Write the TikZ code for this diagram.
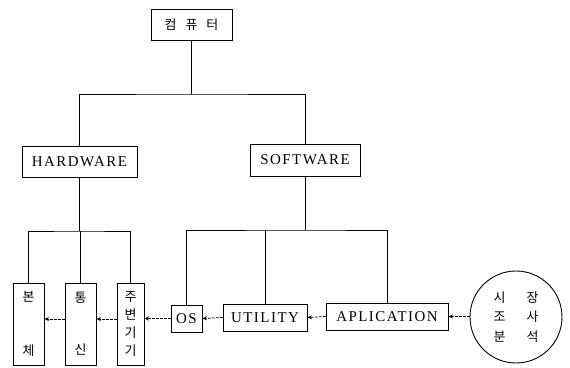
\documentclass[tikz,border=0pt]{standalone}
\usepackage{fontspec}
\setmainfont{Liberation Serif}[LetterSpace=10]
\newfontfamily\kr{Noto Sans CJK KR}
\usetikzlibrary{arrows.meta}
\begin{document}
\begin{tikzpicture}[x=1bp,y=-1bp,
  box/.style={draw, line width=0.9bp, inner sep=0pt, font=\fontsize{15}{18}\selectfont},
  vbox/.style={draw, line width=0.9bp, inner sep=0pt, align=center, minimum height=82bp},
  conn/.style={line width=0.9bp},
  arr/.style={line width=0.8bp, dash pattern=on 2.5bp off 1.5bp, -{Stealth[length=4.5bp,width=4bp]}}]
\useasboundingbox (0,0) rectangle (570,367);
% top level
\node[box, minimum width=81bp, minimum height=31bp] (top) at (191.5,24.5)
  {\kr\fontsize{13}{15}\selectfont 컴\hspace{9bp}퓨\hspace{9bp}터};
\node[box, minimum width=115bp, minimum height=31bp] (hw) at (79.5,162) {HARDWARE};
\node[box, minimum width=110bp, minimum height=32bp] (sw) at (305,160) {SOFTWARE};
% hardware children
\node[vbox, minimum width=31bp, font=\kr\fontsize{13}{54}\selectfont] (b1) at (28.5,324) {본\\체};
\node[vbox, minimum width=31bp, font=\kr\fontsize{13}{52}\selectfont] (b2) at (80.5,324) {통\\신};
\node[vbox, minimum width=27bp, font=\kr\fontsize{13}{18}\selectfont] (b3) at (130.5,324) {주\\변\\기\\기};
% software children
\node[box, minimum width=31bp, minimum height=27bp] (os) at (186.5,318.5) {OS};
\node[box, minimum width=84bp, minimum height=27bp] (ut) at (265,317.5) {UTILITY};
\node[box, minimum width=122bp, minimum height=27bp] (ap) at (387,316.5) {APLICATION};
\node[draw, circle, line width=0.9bp, minimum size=92bp, inner sep=0pt, align=center,
  font=\kr\fontsize{13}{19.5}\selectfont] (ms) at (516,317)
  {시\hspace{21bp}장\\조\hspace{21bp}사\\분\hspace{21bp}석};
% tree connectors
\draw[conn] (top.south) -- (top.south |- 0,94);
\draw[conn] (hw.north) |- (top.south |- 0,94) -| (sw.north);
\draw[conn] (hw.south) -- (hw.south |- 0,231);
\draw[conn] (b1.north) |- (hw.south |- 0,231) -| (b3.north);
\draw[conn] (b2.north) -- (b2.north |- 0,231);
\draw[conn] (sw.south) -- (sw.south |- 0,230);
\draw[conn] (os.north) |- (sw.south |- 0,230) -| (ap.north);
\draw[conn] (ut.north) -- (ut.north |- 0,230);
% flow arrows
\draw[arr] (ms.west |- ap.east) -- (ap.east);
\draw[arr] (ap.west) -- (ut.east);
\draw[arr] (ut.west) -- (os.east);
\draw[arr] (os.west) -- (b3.east |- os.west);
\draw[arr] (b3.west |- 0,319) -- (b2.east |- 0,319);
\draw[arr] (b2.west |- 0,319) -- (b1.east |- 0,319);
\end{tikzpicture}
\end{document}
